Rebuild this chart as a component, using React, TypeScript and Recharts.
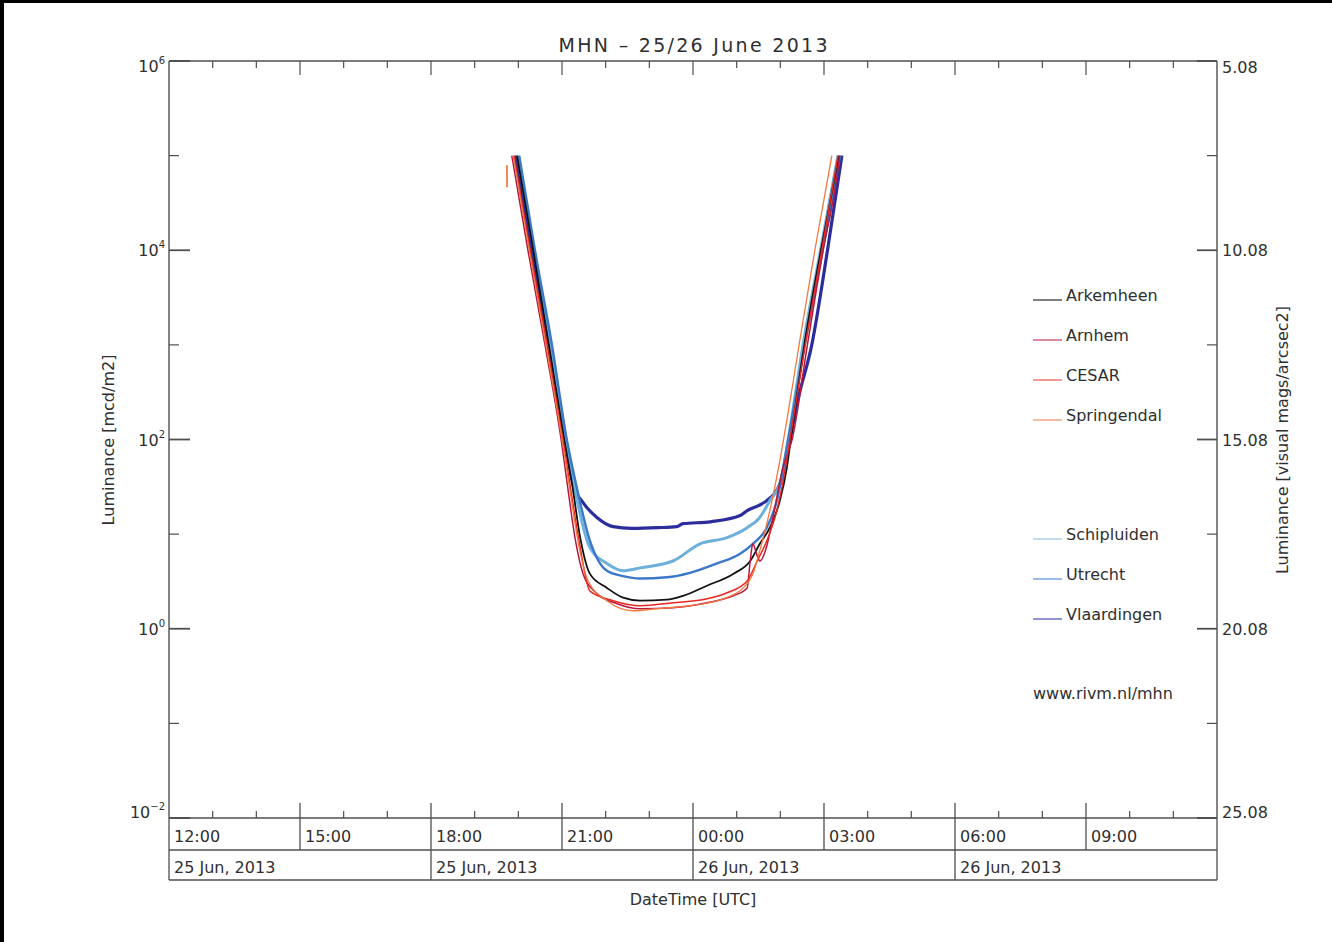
import React from 'react';
import { LineChart, Line, XAxis, YAxis } from 'recharts';

// ---------- data ----------
// time in hours after 12:00 UTC on 25 Jun 2013, luminance in mcd/m2
const hourTicks = [0, 1, 2, 3, 4, 5, 6, 7, 8, 9, 10, 11, 12, 13, 14, 15, 16, 17, 18, 19, 20, 21, 22, 23, 24];
const timeLabels = ['12:00', '15:00', '18:00', '21:00', '00:00', '03:00', '06:00', '09:00'];
const dateLabels = ['25 Jun, 2013', '25 Jun, 2013', '26 Jun, 2013', '26 Jun, 2013'];
const lumTicks = [0.01, 0.1, 1, 10, 100, 1000, 10000, 100000, 1000000];
const expLabels = ['\u22122', '0', '2', '4', '6'];
const magLabels = ['25.08', '20.08', '15.08', '10.08', '5.08'];

const arkemheen: [number, number][] = [
  [7.97, 1e5], [8.34, 1e4], [8.7, 1e3], [9.05, 100], [9.23, 34], [9.42, 9], [9.64, 3.8], [10.03, 2.7], [10.4, 2.13],
  [10.79, 1.98], [11.4, 2.03], [11.77, 2.23], [12.32, 2.85], [12.92, 3.8], [13.31, 5.2], [13.53, 7.9], [13.76, 11.7],
  [13.99, 22.6], [14.15, 50.6], [14.24, 100], [14.55, 1e3], [14.93, 1e4], [15.34, 1e5],
];
const arnhem: [number, number][] = [
  [7.85, 1e5], [8.22, 1e4], [8.61, 1e3], [8.98, 100], [9.12, 34], [9.3, 9], [9.5, 3.6], [9.8, 2.35], [10.26, 1.84], [10.79, 1.63],
  [11.54, 1.67], [12.32, 1.88], [12.92, 2.23], [13.24, 2.7], [13.31, 5.2], [13.37, 7.9], [13.47, 5.9], [13.53, 5.2],
  [13.69, 7.5], [13.83, 15], [14.06, 50.6], [14.27, 100], [14.62, 1e3], [14.98, 1e4], [15.3, 6.1e4], [15.36, 1e5],
];
const cesar: [number, number][] = [
  [7.9, 1e5], [8.27, 1e4], [8.66, 1e3], [9.02, 100], [9.18, 34], [9.4, 8], [9.64, 2.5], [10.17, 1.98], [10.79, 1.75],
  [11.54, 1.88], [12.32, 2.07], [12.78, 2.4], [13.24, 3.2], [13.47, 5.2], [13.69, 8.5], [13.92, 17.7], [14.12, 50.6],
  [14.22, 100], [14.57, 1e3], [14.95, 1e4], [15.32, 1e5],
];
const springendal: [number, number][] = [
  [7.88, 1e5], [8.25, 1e4], [8.63, 1e3], [9.0, 100], [9.16, 34], [9.4, 7], [9.6, 3.2], [10.03, 1.98], [10.63, 1.55], [11.18, 1.63],
  [11.93, 1.75], [12.69, 2.07], [13.15, 2.7], [13.37, 3.8], [13.53, 6.7], [13.76, 17.7], [13.99, 60], [14.15, 159],
  [14.43, 1e3], [14.79, 1e4], [15.18, 1e5],
];
const springendalStray: [number, number][] = [[7.74, 79200], [7.741, 46400]];
const schipluiden: [number, number][] = [
  [8.0, 1e5], [8.36, 1e4], [8.74, 1e3], [9.09, 100], [9.27, 34], [9.64, 7.2], [10.03, 4.9], [10.4, 4.1], [10.79, 4.4],
  [11.54, 5.2], [12.16, 7.9], [12.78, 9.2], [13.24, 11.7], [13.53, 15], [13.76, 22.6], [13.99, 34], [14.18, 100],
  [14.52, 1e3], [14.92, 1e4], [15.32, 1e5],
];
const utrecht: [number, number][] = [
  [8.02, 1e5], [8.38, 1e4], [8.77, 1e3], [9.11, 100], [9.32, 34], [9.64, 8.5], [10.03, 4.1], [10.4, 3.6], [10.79, 3.4],
  [11.4, 3.5], [11.93, 3.9], [12.55, 4.9], [13.08, 6.2], [13.37, 7.9], [13.69, 11.7], [13.92, 22.6], [14.18, 100],
  [14.56, 1e3], [14.97, 1e4], [15.37, 1e5],
];
const vlaardingen: [number, number][] = [
  [7.92, 1e5], [8.29, 1e4], [8.68, 1e3], [9.07, 100], [9.25, 34], [9.5, 21], [9.8, 15], [10.17, 12], [10.6, 11.5],
  [11.2, 11.7], [11.63, 12], [11.77, 12.9], [12.4, 13.5], [13.08, 15.7], [13.24, 17.7], [13.5, 20], [13.69, 22.6],
  [13.99, 34], [14.22, 100], [14.4, 259], [14.72, 1e3], [15.08, 1e4], [15.41, 1e5],
];

const seriesNames = ['Arkemheen', 'Arnhem', 'CESAR', 'Springendal', 'Schipluiden', 'Utrecht', 'Vlaardingen'];
const seriesData = [arkemheen, arnhem, cesar, springendal, schipluiden, utrecht, vlaardingen];

// ---------- styles ----------
const FONT = '"DejaVu Sans", sans-serif';
const AXIS = '#4f4f4f';
const INK = '#2f2f2f';
const COLORS: Record<string, string> = {
  Arkemheen: '#111111',
  Arnhem: '#b8173f',
  CESAR: '#e8281f',
  Springendal: '#f2773f',
  Schipluiden: '#6db0dc',
  Utrecht: '#3b78c9',
  Vlaardingen: '#2b2d9c',
};
const WIDTHS: Record<string, number> = {
  Arkemheen: 1.8,
  Arnhem: 1.5,
  CESAR: 1.5,
  Springendal: 1.3,
  Schipluiden: 3,
  Utrecht: 2.4,
  Vlaardingen: 3.2,
};
const LEGEND_COLORS: Record<string, string> = {
  Arkemheen: '#555555',
  Arnhem: '#d0607e',
  CESAR: '#ee7a70',
  Springendal: '#f4a584',
  Schipluiden: '#a8cfea',
  Utrecht: '#7aa3dc',
  Vlaardingen: '#6c6fc4',
};
const drawOrder = ['Vlaardingen', 'Schipluiden', 'Utrecht', 'Arkemheen', 'Arnhem', 'CESAR', 'Springendal'];

const toPts = (a: [number, number][]) => a.map(([t, v]) => ({ t, v }));

// ---------- ticks ----------
const LeftTick = (p: any) => {
  const { x, y, payload } = p;
  const e = Math.round(Math.log10(payload.value));
  const major = e % 2 === 0;
  const adj = e === 6 ? 5 : e === -2 ? -6 : 0;
  return (
    <g>
      <line x1={x} y1={y} x2={x + (major ? 21 : 10)} y2={y} stroke={AXIS} strokeWidth={major ? 1.8 : 1.2} />
      {major && (
        <text x={x - 4} y={y + 6 + adj} textAnchor="end" fontFamily={FONT} fontSize={16} fill={INK}>
          10
          <tspan dy={-8} fontSize={10}>{expLabels[(e + 2) / 2]}</tspan>
        </text>
      )}
    </g>
  );
};

const RightTick = (p: any) => {
  const { x, y, payload } = p;
  const e = Math.round(Math.log10(payload.value));
  const major = e % 2 === 0;
  const adj = e === 6 ? 6 : e === -2 ? -6 : 0;
  return (
    <g>
      <line x1={x} y1={y} x2={x - (major ? 20 : 10)} y2={y} stroke={AXIS} strokeWidth={major ? 1.8 : 1.2} />
      {major && (
        <text x={x + 5} y={y + 6 + adj} textAnchor="start" fontFamily={FONT} fontSize={16} fill={INK}>
          {magLabels[(e + 2) / 2]}
        </text>
      )}
    </g>
  );
};

const BottomTick = (p: any) => {
  const { x, y, payload } = p;
  const h = payload.value as number;
  const parts: React.ReactNode[] = [];
  if (h % 3 === 0) {
    if (h > 0 && h < 24) parts.push(<line key="t" x1={x} y1={y} x2={x} y2={y - 15} stroke={AXIS} strokeWidth={1.3} />);
    parts.push(<line key="s" x1={x} y1={y} x2={x} y2={h % 6 === 0 ? y + 62 : y + 32} stroke={AXIS} strokeWidth={1.3} />);
    if (h < 24)
      parts.push(
        <text key="l" x={x + 5} y={y + 24} fontFamily={FONT} fontSize={16} fill={INK}>
          {timeLabels[h / 3]}
        </text>
      );
    if (h % 6 === 0 && h < 24)
      parts.push(
        <text key="d" x={x + 5} y={y + 55} fontFamily={FONT} fontSize={16} fill={INK}>
          {dateLabels[h / 6]}
        </text>
      );
  } else {
    parts.push(<line key="m" x1={x} y1={y} x2={x} y2={y - 7} stroke={AXIS} strokeWidth={1.2} />);
  }
  return <g>{parts}</g>;
};

const TopTick = (p: any) => {
  const { x, y, payload } = p;
  const h = payload.value as number;
  if (h === 0 || h === 24) return <g />;
  const major = h % 3 === 0;
  return <line x1={x} y1={y} x2={x} y2={y + (major ? 14 : 7)} stroke={AXIS} strokeWidth={1.2} />;
};

const axisCommon = {
  allowDataOverflow: true,
  interval: 0 as const,
  tickSize: 0,
  tickMargin: 0,
  tickLine: false,
  axisLine: { stroke: AXIS, strokeWidth: 1.4 },
};

// ---------- app ----------
export default function App() {
  const legendNames = ['Arkemheen', 'Arnhem', 'CESAR', 'Springendal', 'Schipluiden', 'Utrecht', 'Vlaardingen'];
  const legendY: Record<string, number> = {
    Arkemheen: 300,
    Arnhem: 340,
    CESAR: 380,
    Springendal: 420,
    Schipluiden: 539,
    Utrecht: 579,
    Vlaardingen: 619,
  };
  return (
    <div style={{ position: 'absolute', left: 0, top: 0, width: 1332, height: 942, background: '#ffffff', overflow: 'hidden' }}>
      <div style={{ position: 'absolute', left: 0, top: 0, width: 1332, height: 3, background: '#000' }} />
      <div style={{ position: 'absolute', left: 0, top: 0, width: 4, height: 942, background: '#000' }} />
      <div style={{ position: 'absolute', left: 0, top: 0 }}>
        <LineChart width={1332} height={942} margin={{ top: 60, right: 114, bottom: 123, left: 168 }}>
          <XAxis xAxisId="b" type="number" dataKey="t" domain={[0, 24]} ticks={hourTicks} height={1} tick={BottomTick} {...axisCommon} />
          <XAxis
            xAxisId="top"
            orientation="top"
            type="number"
            dataKey="t"
            domain={[0, 24]}
            ticks={hourTicks}
            height={1}
            tick={TopTick}
            {...axisCommon}
          />
          <YAxis
            yAxisId="l"
            type="number"
            scale="log"
            domain={[0.01, 1000000]}
            ticks={lumTicks}
            width={1}
            tick={LeftTick}
            {...axisCommon}
          />
          <YAxis
            yAxisId="r"
            orientation="right"
            type="number"
            scale="log"
            domain={[0.01, 1000000]}
            ticks={lumTicks}
            width={1}
            tick={RightTick}
            {...axisCommon}
          />
          {drawOrder.map((name) => (
            <Line
              key={name}
              xAxisId="b"
              yAxisId="l"
              data={toPts(seriesData[seriesNames.indexOf(name)])}
              dataKey="v"
              type="monotone"
              stroke={COLORS[name]}
              strokeWidth={WIDTHS[name]}
              dot={false}
              activeDot={false}
              isAnimationActive={false}
            />
          ))}
          <Line
            xAxisId="b"
            yAxisId="l"
            data={toPts(springendalStray)}
            dataKey="v"
            type="linear"
            stroke={COLORS.Springendal}
            strokeWidth={1.3}
            dot={false}
            activeDot={false}
            isAnimationActive={false}
          />
          <Line
            xAxisId="top"
            yAxisId="r"
            data={toPts(springendalStray)}
            dataKey="v"
            type="linear"
            stroke={COLORS.Springendal}
            strokeWidth={1.3}
            dot={false}
            activeDot={false}
            isAnimationActive={false}
          />
        </LineChart>
      </div>
      <svg
        width={1332}
        height={942}
        style={{ position: 'absolute', left: 0, top: 0, pointerEvents: 'none' }}
        fontFamily={FONT}
      >
        <line x1={169} y1={850} x2={1217} y2={850} stroke={AXIS} strokeWidth={1.3} />
        <line x1={169} y1={880} x2={1217} y2={880} stroke={AXIS} strokeWidth={1.3} />
        <text x={693} y={52} textAnchor="middle" fontSize={19} fill={INK} textLength={269} lengthAdjust="spacing">
          MHN – 25/26 June 2013
        </text>
        <text x={693} y={905} textAnchor="middle" fontSize={16} fill={INK}>
          DateTime [UTC]
        </text>
        <text transform="translate(114,440) rotate(-90)" textAnchor="middle" fontSize={16} fill={INK}>
          Luminance [mcd/m2]
        </text>
        <text transform="translate(1288,440) rotate(-90)" textAnchor="middle" fontSize={16} fill={INK}>
          Luminance [visual mags/arcsec2]
        </text>
        {legendNames.map((name) => (
          <g key={name}>
            <line x1={1033} y1={legendY[name]} x2={1062} y2={legendY[name]} stroke={LEGEND_COLORS[name]} strokeWidth={1.5} />
            <text x={1066} y={legendY[name] + 1} fontSize={16} fill={INK}>
              {name}
            </text>
          </g>
        ))}
        <text x={1033} y={699} fontSize={16} fill={INK}>
          www.rivm.nl/mhn
        </text>
      </svg>
    </div>
  );
}
